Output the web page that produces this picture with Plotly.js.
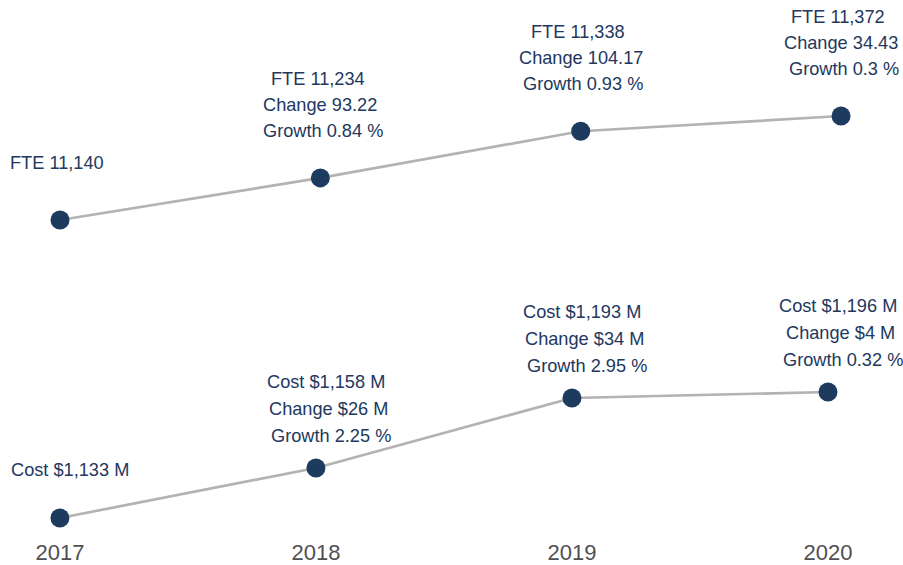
<!DOCTYPE html>
<html>
<head>
<meta charset="utf-8">
<script src="https://cdn.plot.ly/plotly-3.0.1.min.js"></script>
<style>html,body{margin:0;padding:0;background:#fff;}#chart{width:903px;height:565px;}</style>
</head>
<body>
<div id="chart"></div>
<script>
const years = ['2017', '2018', '2019', '2020'];
const fte = [11140, 11234, 11338, 11372];
const fteChange = [null, 93.22, 104.17, 34.43];
const fteGrowth = [null, 0.84, 0.93, 0.3];
const cost = [1133, 1158, 1193, 1196];
const costChange = [null, 26, 34, 4];
const costGrowth = [null, 2.25, 2.95, 0.32];

const navy = '#1d3a5f';
const textNavy = '#22385e';
const lineGray = '#b3b3b3';
const FONT = 'Liberation Sans, Arial, sans-serif';

function fmtInt(v) { return v.toLocaleString('en-US'); }

const traces = [
  {
    x: years, y: fte, xaxis: 'x2', yaxis: 'y2', type: 'scatter', mode: 'lines+markers',
    line: {color: lineGray, width: 2.7},
    marker: {color: navy, size: 19},
    hoverinfo: 'skip', showlegend: false
  },
  {
    x: years, y: cost, xaxis: 'x', yaxis: 'y', type: 'scatter', mode: 'lines+markers',
    line: {color: lineGray, width: 2.7},
    marker: {color: navy, size: 19},
    hoverinfo: 'skip', showlegend: false
  }
];

const fteLabels = years.map((yr, i) => i === 0
  ? ['FTE ' + fmtInt(fte[i])]
  : ['FTE ' + fmtInt(fte[i]), 'Change ' + fteChange[i], 'Growth ' + fteGrowth[i] + ' %']);
const costLabels = years.map((yr, i) => i === 0
  ? ['Cost $' + fmtInt(cost[i]) + ' M']
  : ['Cost $' + fmtInt(cost[i]) + ' M', 'Change $' + costChange[i] + ' M', 'Growth ' + costGrowth[i] + ' %']);

const annotations = [];
function addLabels(labels, vals, xref, yref, cfg) {
  labels.forEach((lines, i) => {
    lines.forEach((txt, j) => {
      const ys = lines.length === 1 ? cfg.single : cfg.first - j * cfg.gap;
      annotations.push({
        x: i, y: vals[i], xref: xref, yref: yref,
        text: txt, showarrow: false,
        xanchor: 'center', yanchor: 'middle',
        xshift: cfg.dx + (j - 1) * 2.7,
        yshift: ys,
        font: {family: FONT, size: 18.2, color: textNavy}
      });
    });
  });
}
addLabels(fteLabels, fte, 'x2', 'y2', {first: 99, gap: 26, single: 57, dx: 0});
addLabels(costLabels, cost, 'x', 'y', {first: 86, gap: 27, single: 48, dx: 12.5});

const layout = {
  width: 903, height: 565,
  margin: {l: 0, r: 0, t: 0, b: 28},
  paper_bgcolor: '#fff', plot_bgcolor: '#fff',
  showlegend: false,
  font: {family: FONT},
  xaxis: {
    type: 'category', range: [-0.234, 3.293], domain: [0, 1], anchor: 'y',
    showgrid: false, zeroline: false, showline: false, ticks: '',
    tickfont: {family: FONT, size: 22, color: '#505050'}
  },
  xaxis2: {
    type: 'category', range: [-0.2305, 3.238], domain: [0, 1], anchor: 'y2', overlaying: 'x',
    visible: false
  },
  yaxis: {
    range: [1123.5, 1392], domain: [0, 1], visible: false
  },
  yaxis2: {
    range: [10432.9, 11630.8], domain: [0, 1], overlaying: 'y', visible: false
  },
  annotations: annotations
};

Plotly.newPlot('chart', traces, layout, {displayModeBar: false, staticPlot: true});
</script>
</body>
</html>
